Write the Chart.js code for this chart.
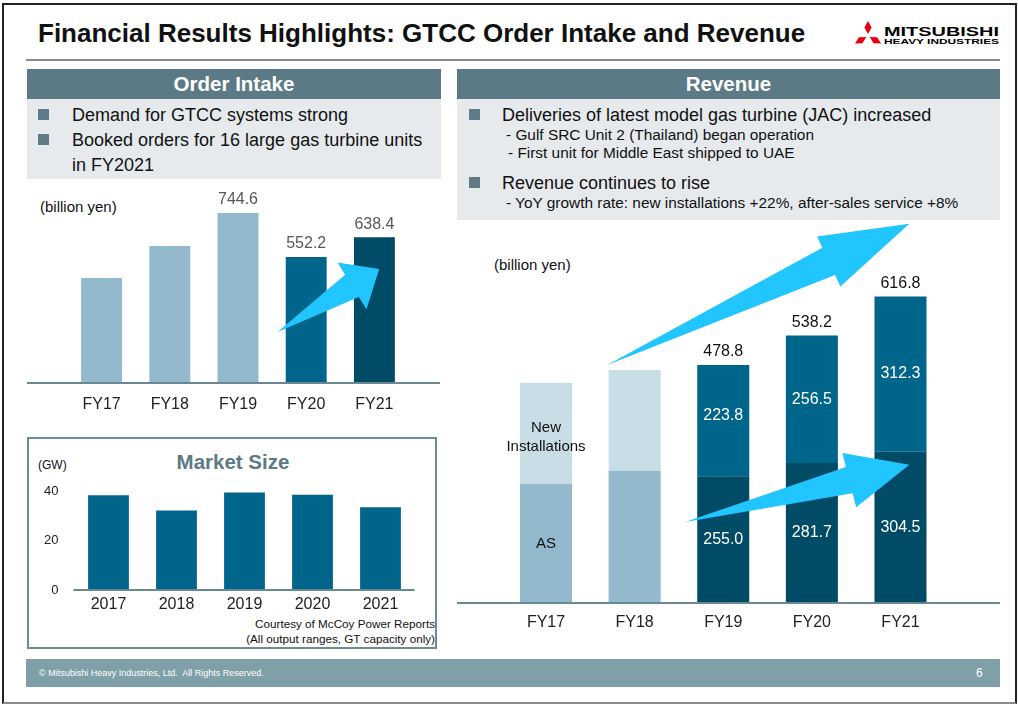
<!DOCTYPE html>
<html>
<head>
<meta charset="utf-8">
<title>GTCC Order Intake and Revenue</title>
<script src="https://cdn.jsdelivr.net/npm/chart.js@4.4.0/dist/chart.umd.min.js"></script>
<style>
  body { margin: 0; width: 1018px; height: 705px; background: #fff; position: relative; overflow: hidden;
         font-family: "Liberation Sans", Arial, sans-serif; color: #111; }
  .abs { position: absolute; white-space: nowrap; }
  #frame { left: 2px; top: 3px; width: 1015px; height: 701px; box-sizing: border-box;
           border: 2px solid #222; border-bottom-color: #8a8a8a; }
  .head { background: #5c7a86; color: #fff; font-weight: bold; font-size: 20.5px; text-align: center; line-height: 30px; height: 30px; }
  .panel { background: #e6eaed; }
  .sq { width: 11px; height: 11px; background: #5f7b87; }
  .big { font-size: 18px; line-height: 22px; }
  .small { font-size: 15.4px; line-height: 18px; }
  canvas { position: absolute; }
</style>
</head>
<body>
<div id="frame" class="abs"></div>

<!-- title + logo -->
<div class="abs" style="left:38px; top:18px; font-size:26px; font-weight:bold; line-height:30px;">Financial Results Highlights: GTCC Order Intake and Revenue</div>
<svg class="abs" style="left:0; top:0;" width="1018" height="60">
  <g fill="#e60012">
    <polygon points="868,21 871.6,27.5 868,34 864.4,27.5"/>
    <polygon points="868,21 871.6,27.5 868,34 864.4,27.5" transform="rotate(-120 868 36)"/>
    <polygon points="868,21 871.6,27.5 868,34 864.4,27.5" transform="rotate(120 868 36)"/>
  </g>
  <text x="884" y="36" font-family="Liberation Sans" font-weight="bold" font-size="12.5" textLength="115" lengthAdjust="spacingAndGlyphs" fill="#000">MITSUBISHI</text>
  <text x="884" y="44" font-family="Liberation Sans" font-weight="bold" font-size="7" textLength="115" lengthAdjust="spacingAndGlyphs" fill="#000">HEAVY INDUSTRIES</text>
</svg>
<div class="abs" style="left:26px; top:59px; width:974px; height:2px; background:#8c8c8c;"></div>

<!-- Order intake text -->
<div class="abs head" style="left:27px; top:69px; width:414px;">Order Intake</div>
<div class="abs panel" style="left:27px; top:99px; width:414px; height:80px;"></div>
<div class="abs sq" style="left:38px; top:109px;"></div>
<div class="abs big" style="left:72px; top:104px;">Demand for GTCC systems strong</div>
<div class="abs sq" style="left:38px; top:134px;"></div>
<div class="abs big" style="left:72px; top:129px;">Booked orders for 16 large gas turbine units</div>
<div class="abs big" style="left:72px; top:154px;">in FY2021</div>
<div class="abs" style="left:40px; top:199px; font-size:15px; line-height:16px;">(billion yen)</div>

<!-- Revenue text -->
<div class="abs head" style="left:457px; top:69px; width:543px;">Revenue</div>
<div class="abs panel" style="left:457px; top:99px; width:543px; height:121px;"></div>
<div class="abs sq" style="left:469px; top:109px;"></div>
<div class="abs big" style="left:502px; top:104px;">Deliveries of latest model gas turbine (JAC) increased</div>
<div class="abs small" style="left:506px; top:126px;">- Gulf SRC Unit 2 (Thailand) began operation</div>
<div class="abs small" style="left:508px; top:144px;">- First unit for Middle East shipped to UAE</div>
<div class="abs sq" style="left:469px; top:177px;"></div>
<div class="abs big" style="left:502px; top:172px;">Revenue continues to rise</div>
<div class="abs small" style="left:506px; top:194px;">- YoY growth rate: new installations +22%, after-sales service +8%</div>
<div class="abs" style="left:494px; top:257px; font-size:15px; line-height:16px;">(billion yen)</div>

<!-- Market size box -->
<div class="abs" style="left:27px; top:437px; width:410px; height:212px; box-sizing:border-box; border:2px solid #6d8a96;"></div>
<div class="abs" style="left:133px; top:450px; width:200px; text-align:center; font-size:20.5px; font-weight:bold; color:#5c7a86; line-height:24px;">Market Size</div>
<div class="abs" style="left:38px; top:458px; font-size:12px; line-height:14px;">(GW)</div>
<div class="abs" style="left:200px; top:616px; width:235px; text-align:right; font-size:11.7px; line-height:15px;">Courtesy of McCoy Power Reports<br>(All output ranges, GT capacity only)</div>

<!-- footer -->
<div class="abs" style="left:26px; top:659px; width:974px; height:28px; background:#7f9fa9;"></div>
<div class="abs" style="left:39px; top:668px; font-size:9px; line-height:11px; color:#fff;">© Mitsubishi Heavy Industries, Ltd.&nbsp; All Rights Reserved.</div>
<div class="abs" style="left:976px; top:666px; font-size:12px; line-height:14px; color:#fff;">6</div>

<canvas id="orderChart" width="413" height="230" style="left:27px; top:190px;"></canvas>
<canvas id="marketChart" width="400" height="140" style="left:30px; top:478px;"></canvas>
<canvas id="revenueChart" width="543" height="425" style="left:457px; top:215px;"></canvas>

<script>
'use strict';
// ******* Data *******
let oiYears = ['FY17', 'FY18', 'FY19', 'FY20', 'FY21'];
let oiValues = [460, 600, 744.6, 552.2, 638.4];
let oiLabels = ['', '', '744.6', '552.2', '638.4'];

let msYears = ['2017', '2018', '2019', '2020', '2021'];
let msValues = [38.4, 32.2, 39.5, 38.6, 33.5];
let msTicks = [0, 20, 40];

let revYears = ['FY17', 'FY18', 'FY19', 'FY20', 'FY21'];
let revAS = [240, 266, 255.0, 281.7, 304.5];
let revNI = [203, 203, 223.8, 256.5, 312.3];
let revTotalLabels = ['', '', '478.8', '538.2', '616.8'];
let revASLabels = ['AS', '', '255.0', '281.7', '304.5'];
let revNILabels = ['New\nInstallations', '', '223.8', '256.5', '312.3'];

// ****** Styles ******
let lightBlue = '#93b9cc';
let paleBlue = '#c9dde6';
let midBlue = '#00658a';
let darkBlue = '#004c66';
let arrowBlue = '#21c5ff';
let axisColor = '#6a8794';
let fontFamily = '"Liberation Sans", Arial, sans-serif';

Chart.defaults.font.family = fontFamily;
Chart.defaults.animation = false;
Chart.defaults.responsive = false;
Chart.defaults.devicePixelRatio = 1;
Chart.defaults.plugins.legend.display = false;
Chart.defaults.plugins.tooltip.enabled = false;

// arrow: tail and tip are given in data space (category index, value)
function drawArrow(chart, a) {
  let ctx = chart.ctx;
  let xs = chart.scales.x;
  let ys = chart.scales.y;
  let x0 = xs.getPixelForValue(a.from[0]), y0 = ys.getPixelForValue(a.from[1]);
  let x1 = xs.getPixelForValue(a.to[0]), y1 = ys.getPixelForValue(a.to[1]);
  let len = Math.hypot(x1 - x0, y1 - y0);
  let ux = (x1 - x0) / len, uy = (y1 - y0) / len;
  let nx = -uy, ny = ux;
  let bx = x1 - ux * a.head, by = y1 - uy * a.head;
  ctx.save();
  ctx.fillStyle = arrowBlue;
  ctx.beginPath();
  ctx.moveTo(x0, y0);
  ctx.lineTo(bx + nx * a.shaft / 2, by + ny * a.shaft / 2);
  ctx.lineTo(bx + nx * a.width / 2, by + ny * a.width / 2);
  ctx.lineTo(x1, y1);
  ctx.lineTo(bx - nx * a.width / 2, by - ny * a.width / 2);
  ctx.lineTo(bx - nx * a.shaft / 2, by - ny * a.shaft / 2);
  ctx.closePath();
  ctx.fill();
  ctx.restore();
}

function drawBaseline(chart, fromX, toX) {
  let ctx = chart.ctx;
  let y = chart.chartArea.bottom;
  ctx.save();
  ctx.strokeStyle = axisColor;
  ctx.lineWidth = 2;
  ctx.beginPath();
  ctx.moveTo(fromX, y);
  ctx.lineTo(toX, y);
  ctx.stroke();
  ctx.restore();
}

function drawText(ctx, text, x, y, color, size) {
  ctx.save();
  ctx.fillStyle = color;
  ctx.font = size + 'px ' + fontFamily;
  ctx.textAlign = 'center';
  ctx.textBaseline = 'middle';
  let lines = text.split('\n');
  let lh = size * 1.25;
  lines.forEach((line, i) => {
    ctx.fillText(line, x, y + (i - (lines.length - 1) / 2) * lh);
  });
  ctx.restore();
}

// ****** Order intake ******
let orderMarks = {
  id: 'orderMarks',
  afterDatasetsDraw(chart) {
    drawBaseline(chart, 0, chart.width);
    drawArrow(chart, { from: [2.58, 223], to: [4.07, 499], head: 32, width: 55, shaft: 26 });
    let bars = chart.getDatasetMeta(0).data;
    bars.forEach((bar, i) => {
      if (oiLabels[i]) drawText(chart.ctx, oiLabels[i], bar.x, bar.y - 13, '#595959', 16);
    });
  }
};

new Chart(document.getElementById('orderChart'), {
  type: 'bar',
  data: {
    labels: oiYears,
    datasets: [{
      data: oiValues,
      backgroundColor: [lightBlue, lightBlue, lightBlue, midBlue, darkBlue],
      barPercentage: 0.6,
      categoryPercentage: 1
    }]
  },
  options: {
    layout: { padding: { left: 40.5, right: 31.5, top: 0, bottom: 0 } },
    scales: {
      x: {
        afterFit: (s) => { s.height = 37; },
        grid: { display: false, drawTicks: false },
        border: { display: false },
        ticks: { color: '#222', font: { size: 16 }, padding: 12 }
      },
      y: { display: false, min: 0, max: 845 }
    }
  },
  plugins: [orderMarks]
});

// ****** Market size ******
let marketMarks = {
  id: 'marketMarks',
  afterDatasetsDraw(chart) {
    drawBaseline(chart, chart.chartArea.left - 1, chart.chartArea.right);
  }
};

new Chart(document.getElementById('marketChart'), {
  type: 'bar',
  data: {
    labels: msYears,
    datasets: [{
      data: msValues,
      backgroundColor: midBlue,
      barPercentage: 0.6,
      categoryPercentage: 1
    }]
  },
  options: {
    layout: { autoPadding: false, padding: { left: 0, right: 15.5, top: 0, bottom: 0 } },
    scales: {
      x: {
        afterFit: (s) => { s.height = 28; },
        grid: { display: false, drawTicks: false },
        border: { display: false },
        ticks: { color: '#222', font: { size: 16 }, padding: 5 }
      },
      y: {
        min: 0,
        max: 45.35,
        afterFit: (s) => { s.width = 44.5; s.paddingTop = 0; s.paddingBottom = 0; },
        afterBuildTicks: (s) => { s.ticks = msTicks.map(v => ({ value: v })); },
        grid: { display: false, drawTicks: false },
        border: { display: false },
        ticks: { color: '#222', font: { size: 13 }, padding: 16 }
      }
    }
  },
  plugins: [marketMarks]
});

// ****** Revenue ******
let revenueMarks = {
  id: 'revenueMarks',
  afterDatasetsDraw(chart) {
    let ctx = chart.ctx;
    drawBaseline(chart, 0, chart.width);
    drawArrow(chart, { from: [0.69, 479], to: [4.1, 763], head: 89, width: 55, shaft: 30 });
    drawArrow(chart, { from: [1.57, 163], to: [4.1, 278], head: 62, width: 56, shaft: 27 });
    let asBars = chart.getDatasetMeta(0).data;
    let niBars = chart.getDatasetMeta(1).data;
    asBars.forEach((bar, i) => {
      let color = i < 2 ? '#111' : '#fff';
      let size = i < 2 ? 15 : 16;
      if (revASLabels[i]) drawText(ctx, revASLabels[i], bar.x, (bar.y + bar.base) / 2, color, size);
    });
    niBars.forEach((bar, i) => {
      let color = i < 2 ? '#111' : '#fff';
      let size = i < 2 ? 15 : 16;
      let shift = i < 2 ? 4 : (i === 2 ? -5 : 0);
      if (revNILabels[i]) drawText(ctx, revNILabels[i], bar.x, (bar.y + bar.base) / 2 + shift, color, size);
      if (revTotalLabels[i]) drawText(ctx, revTotalLabels[i], bar.x, bar.y - 13, '#111', 16);
    });
  }
};

new Chart(document.getElementById('revenueChart'), {
  type: 'bar',
  data: {
    labels: revYears,
    datasets: [{
      label: 'AS',
      data: revAS,
      backgroundColor: [lightBlue, lightBlue, darkBlue, darkBlue, darkBlue],
      barPercentage: 0.587,
      categoryPercentage: 1
    }, {
      label: 'New Installations',
      data: revNI,
      backgroundColor: [paleBlue, paleBlue, midBlue, midBlue, midBlue],
      barPercentage: 0.587,
      categoryPercentage: 1
    }]
  },
  options: {
    layout: { padding: { left: 44.7, right: 55.2, top: 0, bottom: 0 } },
    scales: {
      x: {
        stacked: true,
        afterFit: (s) => { s.height = 37; },
        grid: { display: false, drawTicks: false },
        border: { display: false },
        ticks: { color: '#222', font: { size: 16 }, padding: 9.5 }
      },
      y: { display: false, stacked: true, min: 0, max: 780.7 }
    }
  },
  plugins: [revenueMarks]
});
</script>
</body>
</html>
